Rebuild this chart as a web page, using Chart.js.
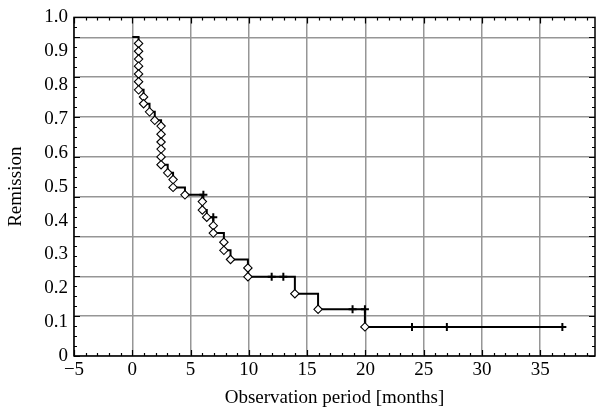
<!DOCTYPE html>
<html>
<head>
<meta charset="utf-8">
<script src="https://cdn.jsdelivr.net/npm/chart.js@4/dist/chart.umd.min.js"></script>
<style>
  body { margin: 0; background: #fff; }
  canvas { display: block; }
</style>
</head>
<body>
<canvas id="myChart" width="601" height="412"></canvas>
<script>
// Kaplan-Meier Daten
var startTime = 0
var startSurv = 0.942
var endTime = 37

// Ereignisse (Rauten)
var eventTimes = [0.54, 0.54, 0.54, 0.54, 0.54, 0.54, 0.54,
  0.97, 0.97, 1.48, 1.93,
  2.47, 2.47, 2.47, 2.47, 2.47, 2.47,
  3.04, 3.5, 3.5, 4.52,
  6.01, 6.01, 6.39, 6.95, 6.95,
  7.86, 7.86, 8.43, 9.92, 9.92,
  13.95, 15.94, 19.96]
var eventSurv = [0.923, 0.900, 0.877, 0.856, 0.833, 0.810, 0.786,
  0.765, 0.745, 0.721, 0.696,
  0.679, 0.655, 0.632, 0.611, 0.588, 0.565,
  0.541, 0.521, 0.498, 0.476,
  0.456, 0.431, 0.410, 0.385, 0.363,
  0.336, 0.312, 0.285, 0.260, 0.234,
  0.184, 0.138, 0.086]

// Zensierte Beobachtungen (Kreuze)
var censorTimes = [6.1, 6.95, 11.96, 12.96, 18.9, 19.96, 24.0, 26.99, 36.9]
var censorSurv = [0.476, 0.410, 0.234, 0.234, 0.138, 0.138, 0.086, 0.086, 0.086]

// Achsenbeschriftung
var xTicks = [-5, 0, 5, 10, 15, 20, 25, 30, 35]
var yTicks = [0, 0.1, 0.2, 0.3, 0.4, 0.5, 0.6, 0.7, 0.8, 0.9, 1.0]

var eventPoints = eventTimes.map((t, i) => ({x: t, y: eventSurv[i]}))
var censorPoints = censorTimes.map((t, i) => ({x: t, y: censorSurv[i]}))
var linePoints = [{x: startTime, y: startSurv}].concat(eventPoints, [{x: endTime, y: censorSurv[censorSurv.length - 1]}])

var serif = "'Liberation Serif', 'DejaVu Serif', serif"

//Rahmen und Teilstriche nach innen
const frameTicks = {
  id: 'frameTicks',
  afterDraw(chart) {
    const {ctx, chartArea: a, scales} = chart
    const xs = scales.x
    const gs = scales.y2
    ctx.save()
    ctx.strokeStyle = '#000'
    ctx.lineWidth = 1.2
    ctx.beginPath()
    for (let v = -5; v <= 39; v++) {
      const px = Math.round(xs.getPixelForValue(v)) + 0.5
      const len = v % 5 === 0 ? 6 : 3
      ctx.moveTo(px, a.bottom); ctx.lineTo(px, a.bottom - len)
      ctx.moveTo(px, a.top); ctx.lineTo(px, a.top + len)
    }
    for (let v = 0; v <= 8.5; v += 0.25) {
      const py = Math.round(gs.getPixelForValue(v)) + 0.5
      const len = v % 1 === 0 ? 6 : 3
      ctx.moveTo(a.left, py); ctx.lineTo(a.left + len, py)
      ctx.moveTo(a.right, py); ctx.lineTo(a.right - len, py)
    }
    ctx.stroke()
    ctx.lineWidth = 1.5
    ctx.strokeRect(a.left, a.top, a.right - a.left, a.bottom - a.top)
    ctx.restore()
  }
}

var ctx = document.getElementById('myChart').getContext('2d')

var data = {
  datasets: [
    {
      type: 'scatter',
      data: eventPoints,
      pointStyle: 'rectRot',
      pointRadius: 4.2,
      pointBackgroundColor: '#fff',
      pointBorderColor: '#000',
      pointBorderWidth: 1.1,
      order: 1
    },
    {
      type: 'scatter',
      data: censorPoints,
      pointStyle: 'cross',
      pointRadius: 4,
      pointBorderColor: '#000',
      pointBorderWidth: 2,
      order: 2
    },
    {
      type: 'line',
      data: linePoints,
      stepped: true,
      borderColor: '#000',
      borderWidth: 2,
      pointRadius: 0,
      fill: false,
      order: 3
    }
  ]
}

var config = {
  type: 'scatter',
  data: data,
  options: {
    responsive: false,
    animation: false,
    devicePixelRatio: 1,
    layout: { padding: { top: 16, right: 0, left: 0, bottom: 0 } },
    plugins: { legend: { display: false }, tooltip: { enabled: false } },
    scales: {
      x: {
        type: 'linear',
        position: 'bottom',
        min: -5,
        max: 39.7,
        afterBuildTicks: (scale) => { scale.ticks = xTicks.map(v => ({value: v})) },
        afterFit: (scale) => { scale.height = 56 },
        border: { display: false },
        grid: { color: '#969696', lineWidth: 1.5, drawTicks: false },
        ticks: {
          padding: 3,
          color: '#000',
          font: { family: serif, size: 19 },
          callback: (v) => v < 0 ? '\u2212' + Math.abs(v) : String(v)
        },
        title: {
          display: true,
          text: 'Observation period [months]',
          color: '#000',
          font: { family: serif, size: 19 },
          padding: { top: 0, bottom: 3 }
        }
      },
      y: {
        type: 'linear',
        position: 'left',
        min: 0,
        max: 1,
        afterBuildTicks: (scale) => { scale.ticks = yTicks.map(v => ({value: v})) },
        afterFit: (scale) => { scale.width = 74 },
        border: { display: false },
        grid: { drawOnChartArea: false, drawTicks: false },
        ticks: {
          padding: 6,
          color: '#000',
          font: { family: serif, size: 19 },
          callback: (v) => v === 0 ? '0' : v.toFixed(1)
        },
        title: {
          display: true,
          text: 'Remission',
          color: '#000',
          font: { family: serif, size: 19 },
          padding: { top: 5, bottom: 0 }
        }
      },
      // nur Gitterlinien
      y2: {
        type: 'linear',
        position: 'right',
        min: 0,
        max: 8.5,
        ticks: { display: false, stepSize: 1, includeBounds: false },
        afterFit: (scale) => { scale.width = 1 },
        border: { display: false },
        grid: { color: '#969696', lineWidth: 1.5, drawTicks: false }
      }
    }
  },
  plugins: [frameTicks]
}

var myChart = new Chart(ctx, config)
</script>
</body>
</html>
